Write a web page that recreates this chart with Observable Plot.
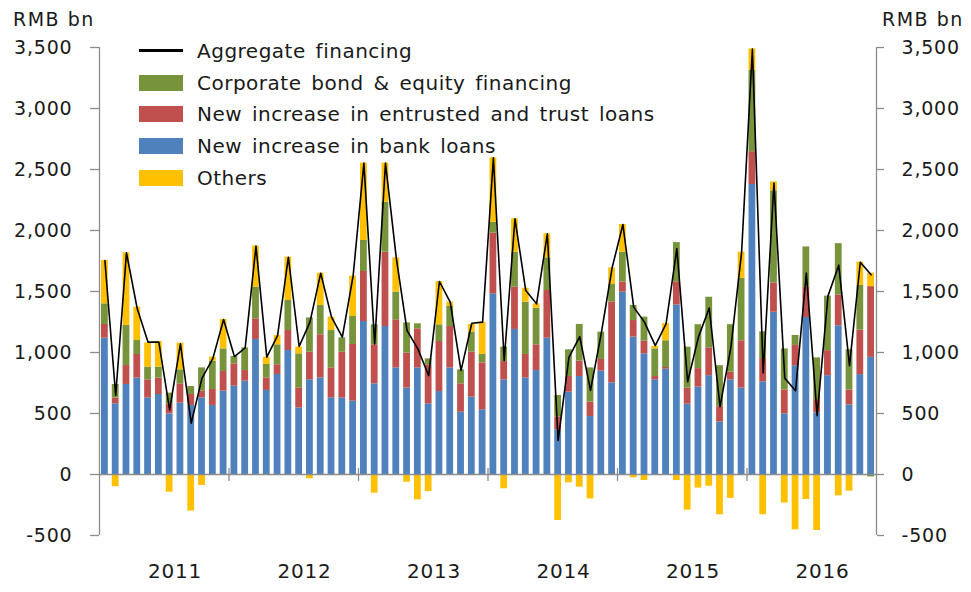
<!DOCTYPE html>
<html>
<head>
<meta charset="utf-8">
<script src="https://cdn.jsdelivr.net/npm/d3@7"></script>
<script src="https://cdn.jsdelivr.net/npm/@observablehq/plot@0.6"></script>
<style>
  body { margin: 0; background: #fff; }
  #wrap { position: relative; width: 971px; height: 592px; font-family: "DejaVu Sans", sans-serif; color: #1a1a1a; }
  .unit { position: absolute; top: 10px; font-size: 19px; line-height: 18px; letter-spacing: 1.5px; white-space: nowrap; }
  #legend { position: absolute; left: 139px; top: 35px; font-size: 20px; letter-spacing: 0.5px; word-spacing: 3px; white-space: nowrap; }
  .row { display: flex; align-items: center; height: 31.7px; }
  .sw { width: 44px; height: 16px; margin-right: 14px; flex: none; }
  .ln { width: 44px; height: 3px; background: #000; margin-right: 14px; flex: none; }
</style>
</head>
<body>
<div id="wrap">
  <div id="chart"></div>
  <div class="unit" style="left:13px">RMB bn</div>
  <div class="unit" style="left:882px">RMB bn</div>
  <div id="legend"></div>
</div>
<script>
// Monthly data, Jan 2011 - Dec 2016 (RMB bn)
const startYear = 2011;
const years = [2011, 2012, 2013, 2014, 2015, 2016];
const yTicks = [-500, 0, 500, 1000, 1500, 2000, 2500, 3000, 3500];

const seriesNames = [
  "New increase in bank loans",
  "New increase in entrusted and trust loans",
  "Corporate bond & equity financing",
  "Others"
];
const seriesColors = ["#4F81BD", "#C0504D", "#77933C", "#FFC000"];
const lineName = "Aggregate financing";

const bankLoans = [
  1117, 579, 738, 790, 628, 656, 497, 585, 566, 628, 566, 683,
  724, 765, 1107, 689, 820, 1016, 546, 776, 792, 628, 626, 601,
  1254, 743, 1213, 874, 708, 874, 579, 680, 874, 511, 634, 530,
  1481, 776, 1189, 790, 852, 1117, 366, 675, 803, 475, 847, 751,
  1495, 1126, 989, 776, 863, 1389, 576, 716, 810, 430, 775, 708,
  2377, 760, 1330, 497, 892, 1287, 506, 810, 1219, 570, 819, 960
];
const entrustedTrust = [
  113, 47, 155, 194, 148, 134, 82, 158, 90, 55, 131, 161,
  183, 87, 169, 103, 79, 164, 164, 227, 353, 246, 377, 465,
  410, 320, 609, 394, 287, 320, 320, 410, 339, 232, 369, 385,
  497, 150, 347, 194, 211, 391, 104, 128, 126, 118, 96, 662,
  82, 136, 104, 27, 14, 190, 132, 152, 228, 126, 64, 388,
  269, 190, 240, 196, 166, 248, 108, 205, 252, 123, 365, 580
];
const bondEquity = [
  169, 112, 328, 114, 104, 90, 88, 115, 65, 191, 232, 186,
  60, 186, 260, 110, 164, 246, 279, 281, 240, 306, 117, 229,
  254, 164, 410, 227, 248, 41, 49, 137, 164, 115, 164, 69,
  90, 118, 286, 429, 300, 268, 178, 219, 301, 281, 224, 144,
  245, 123, 197, 227, 219, 322, 336, 360, 415, 336, 389, 512,
  667, 220, 755, 336, 82, 330, 342, 447, 421, 330, 366, -20
];
const others = [
  355, -100, 596, 274, 199, 210, -145, 219, -300, -90, 33, 240,
  0, 0, 336, 60, 76, 355, 55, -35, 265, 110, 0, 331,
  634, -153, 320, 281, -63, -208, -139, 355, 36, 0, 63, 265,
  528, -117, 274, 114, 36, 197, -377, -68, -104, -200, 0, 137,
  227, -27, -49, 19, 141, -50, -292, -111, -96, -330, -196, 214,
  175, -330, 73, -234, -453, -205, -459, 0, -175, -137, 190, 110
];
const aggregate = [
  1754, 648, 1817, 1358, 1085, 1085, 530, 1071, 421, 790, 950, 1270,
  967, 1038, 1872, 962, 1139, 1781, 1049, 1249, 1650, 1290, 1126, 1626,
  2552, 1071, 2552, 1776, 1180, 1030, 811, 1582, 1413, 852, 1240, 1249,
  2596, 934, 2096, 1508, 1399, 1973, 279, 960, 1130, 689, 1158, 1694,
  2049, 1372, 1249, 1057, 1235, 1851, 760, 1126, 1365, 556, 1038, 1822,
  3488, 833, 2389, 789, 687, 1652, 482, 1462, 1716, 892, 1740, 1637
];

const seriesValues = [bankLoans, entrustedTrust, bondEquity, others];
const nMonths = bankLoans.length;

// long table for stacking (series order = stacking order, bottom first)
const long = [];
seriesValues.forEach((vals, s) => {
  vals.forEach((v, i) => long.push({i, series: seriesNames[s], value: v}));
});
const aggData = aggregate.map((v, i) => ({i, value: v}));
const yearBounds = years.slice(1).map((y) => (y - startYear) * 12);
const yearLabels = years.map((y) => ({year: y, pos: (y - startYear) * 12 + 7}));

const fmt = (d) => d.toLocaleString("en-US");
const grey = "#8c8c8c";

const chart = Plot.plot({
  width: 971,
  height: 592,
  marginLeft: 99,
  marginRight: 95,
  marginTop: 47,
  marginBottom: 57,
  x: {domain: [0, nMonths], axis: null},
  y: {domain: [-500, 3500], axis: null},
  color: {domain: seriesNames, range: seriesColors},
  style: {fontFamily: "DejaVu Sans, sans-serif", fontSize: "19px", color: "#1a1a1a", background: "white", letterSpacing: "0.8px"},
  marks: [
    Plot.rectY(long, Plot.stackY({
      x1: "i", x2: (d) => d.i + 1, y: "value", fill: "series",
      insetLeft: 2, insetRight: 2
    })),
    Plot.ruleY([0], {stroke: grey, strokeWidth: 1.3}),
    Plot.ruleX([0, nMonths], {y1: -500, y2: 3500, stroke: grey, strokeWidth: 1.3}),
    Plot.ruleX(yearBounds, {y1: -57, y2: 49, stroke: grey, strokeWidth: 1.3}),
    Plot.axisY({anchor: "left", ticks: yTicks, tickSize: 9, tickPadding: 18, tickFormat: fmt, stroke: grey, strokeWidth: 1.3, fontSize: 19, label: null}),
    Plot.axisY({anchor: "right", ticks: yTicks, tickSize: 7, tickPadding: 18, tickFormat: fmt, stroke: grey, strokeWidth: 1.3, fontSize: 19, label: null}),
    Plot.line(aggData, {x: (d) => d.i + 0.5, y: "value", stroke: "#000", strokeWidth: 1.6}),
    Plot.text(yearLabels, {x: "pos", frameAnchor: "bottom", dy: 42, text: (d) => String(d.year), fontSize: 20, fill: "#1a1a1a"})
  ]
});
document.getElementById("chart").appendChild(chart);

// legend
const legend = document.getElementById("legend");
const items = [{name: lineName, type: "line"}].concat(
  [2, 1, 0, 3].map((k) => ({name: seriesNames[k], color: seriesColors[k], type: "swatch"}))
);
for (const it of items) {
  const row = document.createElement("div");
  row.className = "row";
  const mark = document.createElement("div");
  if (it.type === "line") mark.className = "ln";
  else { mark.className = "sw"; mark.style.background = it.color; }
  const label = document.createElement("span");
  label.textContent = it.name;
  row.appendChild(mark);
  row.appendChild(label);
  legend.appendChild(row);
}
</script>
</body>
</html>
